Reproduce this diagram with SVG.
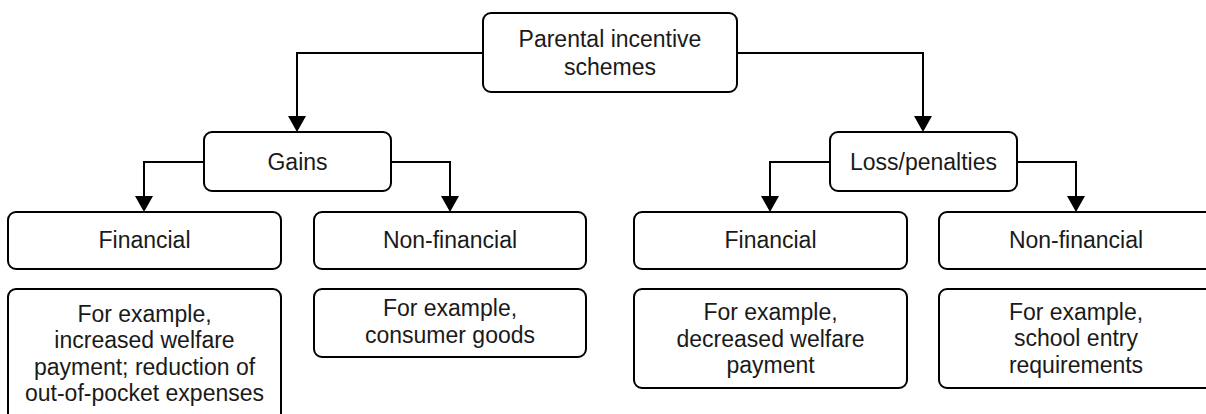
<svg xmlns="http://www.w3.org/2000/svg" width="1206" height="414" viewBox="0 0 1206 414">
<defs>
<style>
.box{fill:#fff;stroke:#000;stroke-width:2}
.t{font-family:"Liberation Sans",Arial,sans-serif;font-size:23px;fill:#1a1a1a;text-anchor:middle}
.c{fill:none;stroke:#000;stroke-width:2}
.h{fill:#000}
</style>
</defs>
<rect width="1206" height="414" fill="#fff"/>
<g id="connectors">
<path class="c" d="M483,53 H297 V116"/>
<path class="c" d="M737,53 H923 V116"/>
<path class="c" d="M204,162 H144 V196"/>
<path class="c" d="M391,162 H450 V196"/>
<path class="c" d="M830,162 H770 V196"/>
<path class="c" d="M1017,162 H1076 V196"/>
<path class="h" d="M288,116 L306,116 L297,132 Z"/>
<path class="h" d="M914,116 L932,116 L923,132 Z"/>
<path class="h" d="M135,196 L153,196 L144,212 Z"/>
<path class="h" d="M441,196 L459,196 L450,212 Z"/>
<path class="h" d="M761,196 L779,196 L770,212 Z"/>
<path class="h" d="M1067,196 L1085,196 L1076,212 Z"/>
</g>
<g id="root">
<rect class="box" x="483" y="13" width="254" height="79" rx="8"/>
<text class="t" x="610" y="47">Parental incentive</text>
<text class="t" x="610" y="75">schemes</text>
</g>
<g id="gains">
<rect class="box" x="204" y="132" width="187" height="59" rx="8"/>
<text class="t" x="297.5" y="170">Gains</text>
</g>
<g id="loss">
<rect class="box" x="830" y="132" width="187" height="59" rx="8"/>
<text class="t" x="923.5" y="170">Loss/penalties</text>
</g>
<g id="gains-financial">
<rect class="box" x="8" y="212" width="273" height="57" rx="8"/>
<text class="t" x="144.5" y="248">Financial</text>
</g>
<g id="gains-nonfinancial">
<rect class="box" x="314" y="212" width="272" height="57" rx="8"/>
<text class="t" x="450" y="248">Non-financial</text>
</g>
<g id="loss-financial">
<rect class="box" x="634" y="212" width="273" height="57" rx="8"/>
<text class="t" x="770.5" y="248">Financial</text>
</g>
<g id="loss-nonfinancial">
<rect class="box" x="939" y="212" width="274" height="57" rx="8"/>
<text class="t" x="1076" y="248">Non-financial</text>
</g>
<g id="gains-financial-example">
<rect class="box" x="8" y="289" width="273" height="135" rx="8"/>
<text class="t" x="144.5" y="321.5">For example,</text>
<text class="t" x="144.5" y="348.1">increased welfare</text>
<text class="t" x="144.5" y="374.7">payment; reduction of</text>
<text class="t" x="144.5" y="401.3">out-of-pocket expenses</text>
</g>
<g id="gains-nonfinancial-example">
<rect class="box" x="314" y="289" width="272" height="68" rx="8"/>
<text class="t" x="450" y="316">For example,</text>
<text class="t" x="450" y="343">consumer goods</text>
</g>
<g id="loss-financial-example">
<rect class="box" x="634" y="289" width="273" height="99" rx="8"/>
<text class="t" x="770.5" y="320">For example,</text>
<text class="t" x="770.5" y="346.6">decreased welfare</text>
<text class="t" x="770.5" y="373.2">payment</text>
</g>
<g id="loss-nonfinancial-example">
<rect class="box" x="939" y="289" width="274" height="99" rx="8"/>
<text class="t" x="1076" y="319.5">For example,</text>
<text class="t" x="1076" y="346.1">school entry</text>
<text class="t" x="1076" y="372.7">requirements</text>
</g>
</svg>
